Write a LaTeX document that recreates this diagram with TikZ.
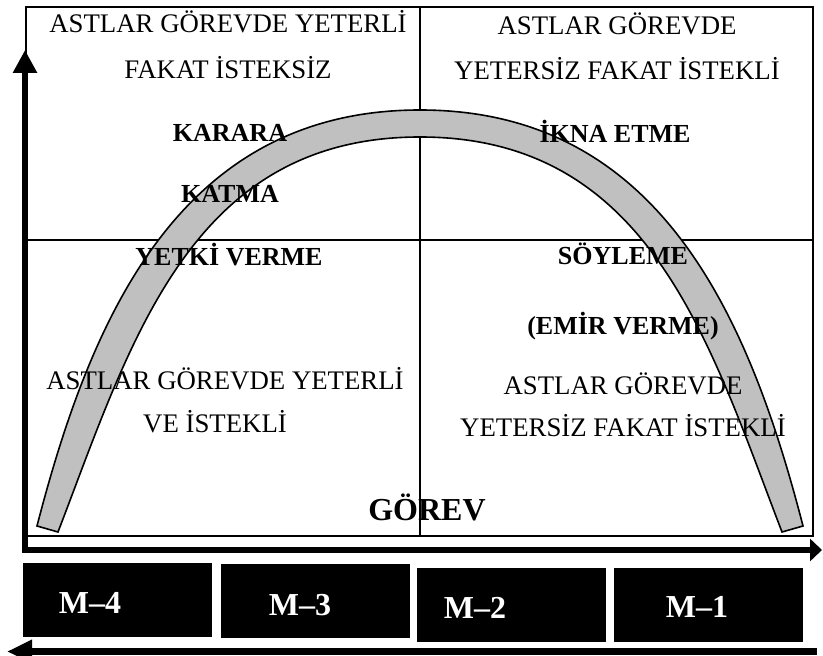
\documentclass[tikz,border=0pt]{standalone}
\usepackage{fontspec}
\setmainfont{Liberation Serif}
\usetikzlibrary{positioning,arrows.meta}
\definecolor{bandgray}{RGB}{192,192,192}

\begin{document}
\begin{tikzpicture}[x=0.5pt,y=-0.5pt,
  cell/.style={anchor=base,font=\fontsize{13.4}{15}\selectfont},
  act/.style={anchor=base,font=\fontsize{13}{15}\selectfont\bfseries},
  mbox/.style={fill=black,minimum width=94.5pt,minimum height=37pt,inner sep=0pt},
  mtext/.style={anchor=base,text=white,font=\fontsize{16}{18}\selectfont\bfseries}]
\useasboundingbox (0,0) rectangle (823,656);
% dort bolge
\coordinate (tl) at (26,7);
\coordinate (br) at (813,536);
\draw[line width=1pt] (tl) rectangle (br);
\draw[line width=1pt] (420,7) -- (420,536);
\draw[line width=1pt] (26,240) -- (813,240);
% yay
\draw[line width=0.8pt,fill=bandgray] (37,526) .. controls (91,317) and (180,110) .. (420,110)
  .. controls (660,110) and (749,317) .. (803,526) -- (782,532)
  .. controls (709,342) and (650,137) .. (420,137)
  .. controls (190,137) and (131,342) .. (58,532) -- cycle;
% ust sol
\node[cell] (tl1) at (228,33) {ASTLAR GÖREVDE YETERLİ};
\node[cell] (tl2) at (228,79) {FAKAT İSTEKSİZ};
\node[act] (karara) at (230,142) {KARARA};
\node[act] (katma) at (230,203) {KATMA};
% ust sag
\node[cell] (tr1) at (617,35) {ASTLAR GÖREVDE};
\node[cell] (tr2) at (617,80) {YETERSİZ FAKAT İSTEKLİ};
\node[act] (ikna) at (615,143) {İKNA ETME};
% alt sol
\node[act] (yetki) at (229,266) {YETKİ VERME};
\node[cell] (bl1) at (225,390) {ASTLAR GÖREVDE YETERLİ};
\node[cell] (bl2) at (215,433) {VE İSTEKLİ};
% alt sag
\node[act] (soyleme) at (623,265) {SÖYLEME};
\node[act] (emir) at (623,335) {(EMİR VERME)};
\node[cell] (br1) at (623,395) {ASTLAR GÖREVDE};
\node[cell] (br2) at (623,437) {YETERSİZ FAKAT İSTEKLİ};
\node[anchor=base,font=\fontsize{16}{18}\selectfont\bfseries] (gorev) at (427,520) {GÖREV};
% eksenler
\coordinate (origin) at (25,550);
\coordinate (ytip) at (25,50);
\coordinate (xtip) at (822,550);
\draw[line width=3pt,line join=miter,{Triangle[length=11.5pt,width=11.5pt]}-{Triangle[length=6pt,width=11pt]}] (ytip) -- (origin) -- (xtip);
% M kutulari
\node[mbox] (m4) at (117.5,600) {};
\node[mbox] (m3) at (315.5,601) {};
\node[mbox] (m2) at (511.5,604.5) {};
\node[mbox] (m1) at (708.5,604.5) {};
\node[mtext] (m4t) at (90,613) {M–4};
\node[mtext] (m3t) at (300,615) {M–3};
\node[mtext] (m2t) at (475,618) {M–2};
\node[mtext] (m1t) at (697,617) {M–1};
\coordinate (bstart) at (817,651.5);
\coordinate (btip) at (7,651.5);
\draw[line width=3.5pt,-{Triangle[length=12.5pt,width=11pt]}] (bstart) -- (btip);
\end{tikzpicture}
\end{document}
